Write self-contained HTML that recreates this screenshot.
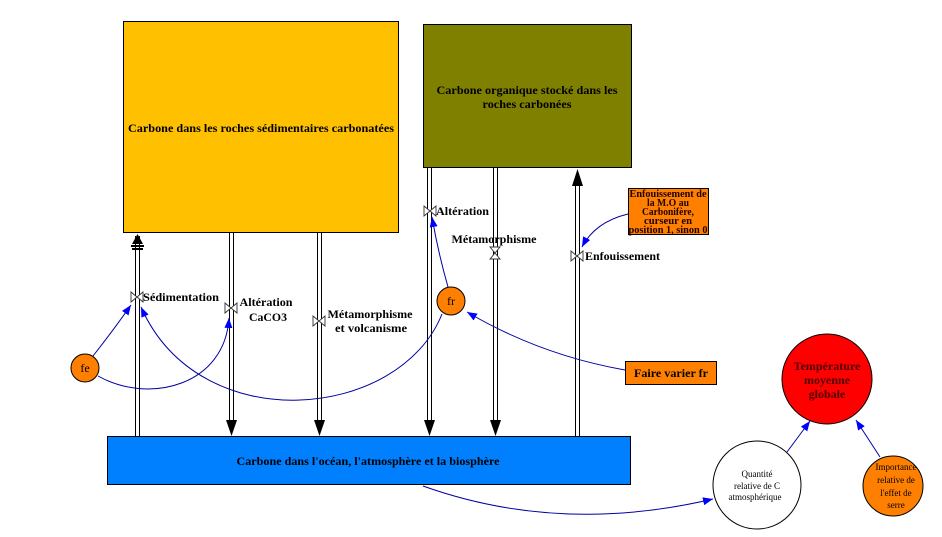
<!DOCTYPE html>
<html>
<head>
<meta charset="utf-8">
<style>
html,body{margin:0;padding:0;background:#fff;}
svg{display:block;}
text{font-family:"Liberation Serif",serif;}
.b{font-weight:bold;font-size:12px;fill:#000;}
</style>
</head>
<body>
<svg width="942" height="537" viewBox="0 0 942 537" xmlns="http://www.w3.org/2000/svg">
<defs>
<marker id="ba" markerUnits="userSpaceOnUse" markerWidth="10" markerHeight="8" refX="10" refY="4" orient="auto">
<path d="M0,0 L10,4 L0,8 Z" fill="#0000ff"/>
</marker>
</defs>
<rect width="942" height="537" fill="#fff"/>

<!-- pipes -->
<g stroke="#000" stroke-width="1" fill="none">
<line x1="135.5" y1="236" x2="135.5" y2="437"/><line x1="139.5" y1="236" x2="139.5" y2="437"/>
<line x1="229.5" y1="233" x2="229.5" y2="424"/><line x1="233.5" y1="233" x2="233.5" y2="424"/>
<line x1="317.5" y1="233" x2="317.5" y2="424"/><line x1="321.5" y1="233" x2="321.5" y2="424"/>
<line x1="427.5" y1="168" x2="427.5" y2="424"/><line x1="431.5" y1="168" x2="431.5" y2="424"/>
<line x1="493.5" y1="168" x2="493.5" y2="424"/><line x1="497.5" y1="168" x2="497.5" y2="424"/>
<line x1="575.5" y1="180" x2="575.5" y2="437"/><line x1="579.5" y1="180" x2="579.5" y2="437"/>
</g>
<!-- down arrowheads -->
<g fill="#000">
<polygon points="226,420 237,420 231.5,436"/>
<polygon points="314,420 325,420 319.5,436"/>
<polygon points="424,420 435,420 429.5,436"/>
<polygon points="490,420 501,420 495.5,436"/>
<!-- up arrowheads -->
<polygon points="572,186 583,186 577.5,169"/>
<polygon points="132,244 143,244 137.5,234"/>
<rect x="131" y="245" width="13" height="2"/>
<rect x="132" y="248" width="11" height="2"/>
</g>

<!-- stocks -->
<rect x="123.5" y="21.5" width="275" height="211" fill="#ffc000" stroke="#000" stroke-width="1"/>
<text class="b" x="261" y="132" text-anchor="middle" textLength="266" lengthAdjust="spacingAndGlyphs">Carbone dans les roches sédimentaires carbonatées</text>

<rect x="423.5" y="24.5" width="208" height="143" fill="#808000" stroke="#000" stroke-width="1"/>
<text class="b" x="527" y="94" text-anchor="middle" textLength="181" lengthAdjust="spacingAndGlyphs">Carbone organique stocké dans les</text>
<text class="b" x="527" y="108" text-anchor="middle" textLength="89" lengthAdjust="spacingAndGlyphs">roches carbonées</text>

<rect x="107.5" y="436.5" width="523" height="48" fill="#0080ff" stroke="#000" stroke-width="1"/>
<text class="b" x="368" y="465" text-anchor="middle" textLength="263" lengthAdjust="spacingAndGlyphs">Carbone dans l'océan, l'atmosphère et la biosphère</text>

<!-- valves -->
<g fill="#fff" stroke="#333" stroke-width="0.9">
<path d="M131,292 L137,297 L131,302 Z M143,292 L137,297 L143,302 Z"/>
<path d="M225,303 L231,308 L225,313 Z M237,303 L231,308 L237,313 Z"/>
<path d="M313,316 L319,321 L313,326 Z M325,316 L319,321 L325,326 Z"/>
<path d="M424,206 L430,211 L424,216 Z M436,206 L430,211 L436,216 Z"/>
<path d="M490,247 L495,253 L500,247 Z M490,259 L495,253 L500,259 Z"/>
<path d="M571,251 L577,256 L571,261 Z M583,251 L577,256 L583,261 Z"/>
</g>

<!-- flow labels -->
<text class="b" x="143" y="301" textLength="76" lengthAdjust="spacingAndGlyphs">Sédimentation</text>
<text class="b" x="266" y="306" text-anchor="middle" textLength="53" lengthAdjust="spacingAndGlyphs">Altération</text>
<text class="b" x="268" y="321" text-anchor="middle" textLength="38" lengthAdjust="spacingAndGlyphs">CaCO3</text>
<text class="b" x="370" y="318" text-anchor="middle" textLength="85" lengthAdjust="spacingAndGlyphs">Métamorphisme</text>
<text class="b" x="371" y="332" text-anchor="middle" textLength="72" lengthAdjust="spacingAndGlyphs">et volcanisme</text>
<text class="b" x="436" y="215" textLength="53" lengthAdjust="spacingAndGlyphs">Altération</text>
<text class="b" x="494" y="243" text-anchor="middle" textLength="85" lengthAdjust="spacingAndGlyphs">Métamorphisme</text>
<text class="b" x="585" y="260" textLength="75" lengthAdjust="spacingAndGlyphs">Enfouissement</text>

<!-- blue connectors -->
<g fill="none" stroke="#0000a0" stroke-width="1">
<path d="M93,356 Q112,332 131,305" marker-end="url(#ba)"/>
<path d="M98,376 C150,405 225,385 229,318" marker-end="url(#ba)"/>
<path d="M442,314 C400,420 200,440 141,307" marker-end="url(#ba)"/>
<path d="M448,287 Q438,252 432,217" marker-end="url(#ba)"/>
<path d="M625,370 Q540,355 467,312" marker-end="url(#ba)"/>
<path d="M628,214 Q595,222 582,247" marker-end="url(#ba)"/>
<path d="M423,486 Q560,535 713,499" marker-end="url(#ba)"/>
<path d="M787,452 L810,421" marker-end="url(#ba)"/>
<path d="M880,457 L856,420" marker-end="url(#ba)"/>
</g>

<!-- converters -->
<circle cx="85" cy="368" r="14" fill="#ff8000" stroke="#000" stroke-width="1"/>
<text x="85" y="372" font-size="12" text-anchor="middle" fill="#000">fe</text>
<circle cx="451" cy="301" r="14" fill="#ff8000" stroke="#000" stroke-width="1"/>
<text x="451" y="305" font-size="12" text-anchor="middle" fill="#000">fr</text>

<!-- Enfouissement box -->
<rect x="628.5" y="188.5" width="80" height="46" fill="#ff8000" stroke="#000" stroke-width="1"/>
<g font-size="10" font-weight="bold" fill="#200000" text-anchor="middle">
<text x="668" y="197" textLength="77" lengthAdjust="spacingAndGlyphs">Enfouissement de</text>
<text x="668" y="206" textLength="42" lengthAdjust="spacingAndGlyphs">la M.O au</text>
<text x="668" y="215" textLength="52" lengthAdjust="spacingAndGlyphs">Carbonifère,</text>
<text x="668" y="224" textLength="48" lengthAdjust="spacingAndGlyphs">curseur en</text>
<text x="668" y="233" textLength="79" lengthAdjust="spacingAndGlyphs">position 1, sinon 0</text>
</g>

<!-- Faire varier fr -->
<rect x="625.5" y="361.5" width="91" height="23" fill="#ff8000" stroke="#000" stroke-width="1"/>
<text class="b" x="671" y="377" text-anchor="middle" textLength="74" lengthAdjust="spacingAndGlyphs">Faire varier fr</text>

<!-- Temperature -->
<circle cx="827" cy="379" r="45" fill="#ff0000" stroke="#000" stroke-width="1"/>
<g font-size="12" font-weight="bold" fill="#500000" text-anchor="middle">
<text x="827" y="370" textLength="67" lengthAdjust="spacingAndGlyphs">Température</text>
<text x="827" y="384">moyenne</text>
<text x="827" y="398">globale</text>
</g>

<!-- Quantité -->
<circle cx="757" cy="485" r="44" fill="#fff" stroke="#000" stroke-width="1"/>
<g font-size="9" fill="#000" text-anchor="middle">
<text x="757" y="477">Quantité</text>
<text x="757" y="489">relative de C</text>
<text x="755" y="500">atmosphérique</text>
</g>

<!-- Importance -->
<circle cx="893" cy="486" r="30" fill="#ff8000" stroke="#000" stroke-width="1"/>
<g font-size="9" fill="#000" text-anchor="middle">
<text x="896" y="470">Importance</text>
<text x="896" y="483">relative de</text>
<text x="896" y="496">l'effet de</text>
<text x="896" y="508">serre</text>
</g>
</svg>
</body>
</html>
